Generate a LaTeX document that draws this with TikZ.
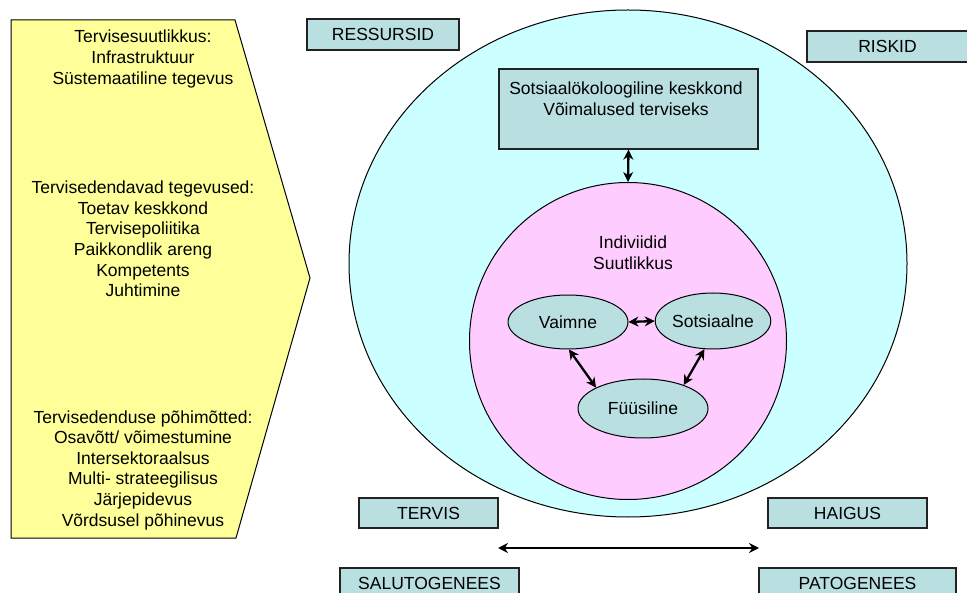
\documentclass[tikz,border=0pt]{standalone}
\usepackage{fontspec}
\setmainfont{Liberation Sans}
\usetikzlibrary{shapes.geometric,arrows.meta}

\definecolor{panelyellow}{HTML}{FFFF99}
\definecolor{outercyan}{HTML}{CCFFFF}
\definecolor{innerpink}{HTML}{FFCCFF}
\definecolor{tealbox}{HTML}{BADFE1}
\definecolor{edgegray}{HTML}{222222}

\tikzset{
  every node/.style={font=\fontsize{17.5}{20.6}\selectfont, text=black},
  labelbox/.style={draw=edgegray, line width=1.3pt, fill=tealbox, inner sep=0pt},
  oval/.style={ellipse, draw=black, line width=1pt, fill=tealbox, inner sep=0pt},
  both/.style={{Stealth[length=10pt,width=10pt]}-{Stealth[length=10pt,width=10pt]}, line width=2.3pt, black},
  txt/.style={align=center, inner sep=0pt},
}

\begin{document}
\begin{tikzpicture}[x=1pt,y=-1pt]
  \clip (0,0) rectangle (967,593);

  % left panel
  \draw[fill=panelyellow, line width=1pt] (11,20) -- (235,20) -- (310,278) -- (236,538) -- (11,538) -- cycle;
  \node[txt] (capacity) at (143,59) {Tervisesuutlikkus:\\Infrastruktuur\\Süstemaatiline tegevus};
  \node[txt] (actions) at (143,239) {Tervisedendavad tegevused:\\Toetav keskkond\\Tervisepoliitika\\Paikkondlik areng\\Kompetents\\Juhtimine};
  \node[txt] (principles) at (143,470) {Tervisedenduse põhimõtted:\\Osavõtt/ võimestumine\\Intersektoraalsus\\Multi- strateegilisus\\Järjepidevus\\Võrdsusel põhinevus};

  % nested circles
  \node[ellipse, draw=black, line width=1pt, fill=outercyan, minimum width=558pt, minimum height=507pt, inner sep=0pt] (outer) at (628,263.5) {};
  \node[circle, draw=black, line width=1pt, fill=innerpink, minimum size=317pt, inner sep=0pt] (inner) at (628,341) {};
  \node[txt] (indiv) at (633,253) {Indiviidid\\Suutlikkus};

  % environment box
  \node[labelbox, minimum width=259pt, minimum height=80pt] (env) at (628.5,109) {};
  \node[txt] (envtext) at (626,98.5) {Sotsiaalökoloogiline keskkond\\Võimalused terviseks};

  % the three dimensions
  \node[oval, minimum width=120pt, minimum height=54pt] (vaimne) at (568,322) {Vaimne};
  \node[oval, minimum width=110pt, minimum height=56pt] (sots) at (713,321) {Sotsiaalne};
  \node[oval, minimum width=130pt, minimum height=59pt] (fys) at (643,408.5) {Füüsiline};

  \draw[both] (env.south) -- (inner.north);
  \draw[both] (vaimne.east) -- (sots.west);
  \draw[both] (vaimne.-88) -- (fys.156);
  \draw[both] (sots.253) -- (fys.30);

  % corner labels
  \node[labelbox, minimum width=152pt, minimum height=31pt] (ressursid) at (383,34.5) {RESSURSID};
  \node[labelbox, minimum width=161pt, minimum height=31pt] (riskid) at (887.5,46.5) {RISKID};
  \node[labelbox, minimum width=139pt, minimum height=30pt] (tervis) at (428.5,513) {TERVIS};
  \node[labelbox, minimum width=159pt, minimum height=30pt] (haigus) at (847.5,513) {HAIGUS};
  \node[labelbox, minimum width=179pt, minimum height=31pt] (saluto) at (429.5,583.5) {SALUTOGENEES};
  \node[labelbox, minimum width=197pt, minimum height=31pt] (pato) at (857.5,583.5) {PATOGENEES};

  % health–disease axis
  \coordinate (axisL) at (498,548);
  \coordinate (axisR) at (759,548);
  \draw[both, line width=1.8pt] (axisL) -- (axisR);
\end{tikzpicture}
\end{document}
